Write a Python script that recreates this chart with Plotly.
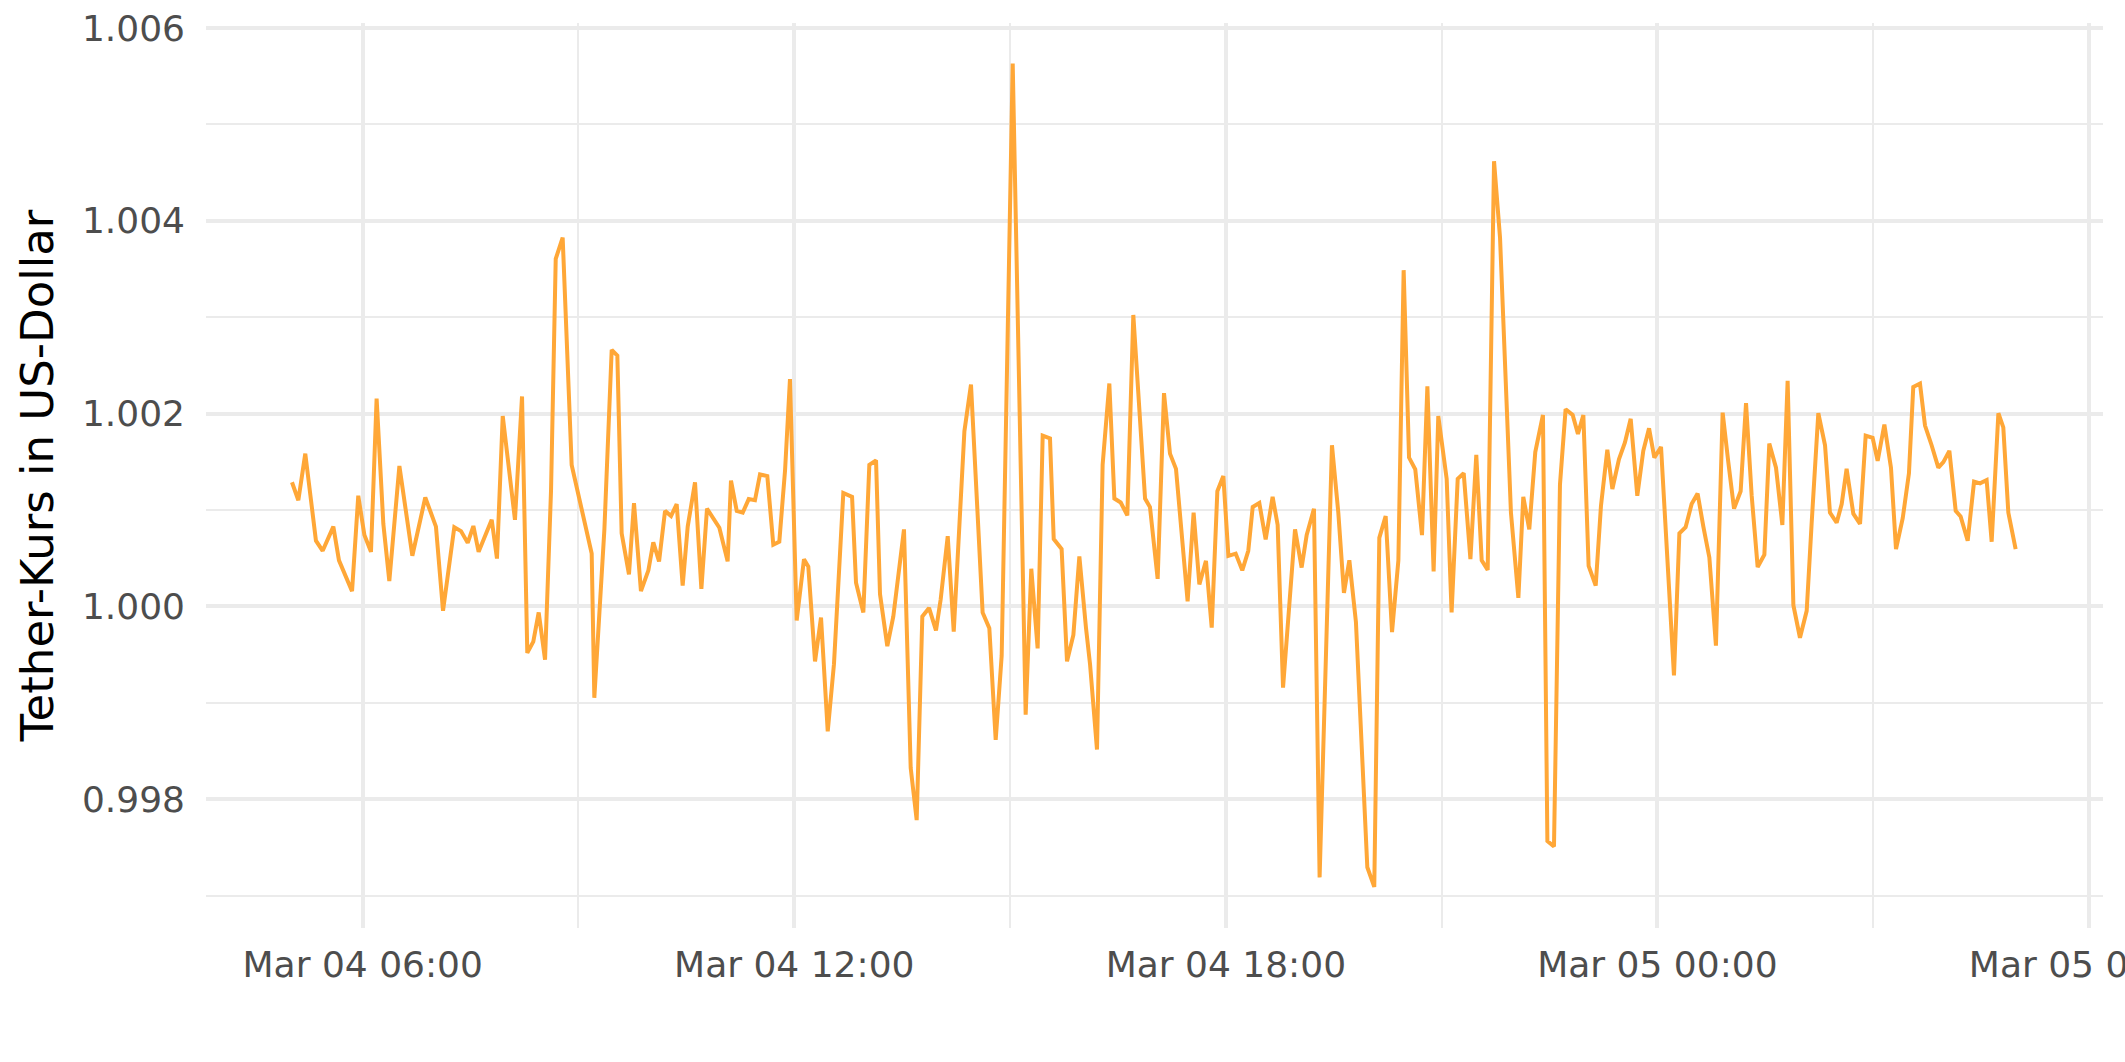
import pandas as pd
import plotly.graph_objects as go

# minutes after 2020-03-04 00:00
minutes = [
    301.0, 306.3, 312.1, 321.0, 326.6, 335.5, 340.2, 351.1, 356.3, 361.4, 366.9, 371.6, 377.2, 382.2,
    390.6, 401.4, 412.2, 421.1, 427.0, 436.4, 442.0, 447.6, 452.3, 456.7, 467.6, 472.0, 476.8, 487.0,
    492.9, 497.3, 502.3, 506.8, 512.1, 517.1, 521.0, 526.8,
    534.3, 551.0, 553.2, 561.6, 567.7, 572.4, 576.0, 582.1, 586.3, 592.1, 598.3, 602.4, 607.2, 612.2,
    617.2, 621.9, 626.9, 631.1, 637.2, 642.5, 647.2, 652.0, 657.5, 664.4, 667.2, 672.0, 677.0, 682.0,
    687.2, 691.4, 697.5, 702.5, 707.5, 712.3, 716.4, 722.0, 728.1, 731.7, 737.3, 742.3, 747.9, 753.1,
    760.9, 768.2, 771.5,
    777.6, 782.6, 788.2, 791.5, 797.6, 802.6, 811.5, 817.1, 822.1, 826.8, 832.4, 838.2, 842.1, 848.0,
    853.0, 861.9, 867.4, 877.1, 882.7, 888.0, 893.0, 902.2, 913.0, 917.7, 923.0, 927.2, 933.3, 936.4,
    943.0, 947.5, 952.8, 957.8, 963.3, 966.7, 972.5, 977.2, 982.8, 987.0, 992.3, 997.8, 1002.8, 1012.6,
    1016.7,
    1023.1, 1028.4, 1033.4, 1038.4, 1048.1, 1053.1, 1057.9, 1063.4, 1068.2, 1072.9, 1077.9, 1082.1,
    1088.2, 1093.7, 1098.7, 1102.4, 1107.9, 1113.2, 1119.0, 1123.2, 1127.7, 1137.7, 1143.2, 1147.4,
    1153.5, 1158.2, 1168.5, 1173.8, 1178.5, 1183.0, 1188.5, 1198.0, 1203.8, 1208.0, 1213.3, 1218.6,
    1223.9, 1228.3, 1232.8, 1238.0, 1243.6, 1248.1, 1253.3, 1257.2,
    1264.2, 1268.3, 1273.4, 1278.4, 1284.0, 1288.9, 1293.4, 1298.4, 1303.7, 1308.7, 1313.7, 1317.8,
    1324.0, 1328.1, 1333.1, 1338.1, 1344.5, 1348.2, 1353.7, 1358.7, 1363.4, 1369.3, 1373.7, 1378.2,
    1382.6, 1388.5, 1392.9, 1398.2, 1402.4, 1407.9, 1412.9, 1417.7, 1423.2, 1428.2, 1433.0, 1437.4,
    1443.0, 1453.8, 1458.3, 1463.5, 1468.5, 1473.5, 1478.3, 1483.3, 1488.8, 1494.4,
    1499.1, 1503.9, 1509.4, 1513.9, 1518.6, 1523.6, 1529.2, 1533.3, 1538.9, 1544.2, 1548.6, 1553.4,
    1558.9, 1564.5, 1568.6, 1574.2, 1579.8, 1583.9, 1589.5, 1593.7, 1597.8, 1603.4, 1609.0, 1613.7,
    1619.5, 1623.7, 1629.3, 1634.8, 1639.0, 1644.6, 1649.8, 1653.4, 1659.0, 1663.2, 1668.7, 1674.3,
    1678.5, 1683.5, 1688.8, 1692.9, 1698.8, 1704.1, 1709.1, 1714.6, 1718.8, 1724.4, 1728.5, 1732.7,
    1738.8,
]

price = [
    1.001287, 1.001100, 1.001584, 1.000681, 1.000576, 1.000827, 1.000477, 1.000157, 1.001147, 1.000739,
    1.000565, 1.002154, 1.000856, 1.000262, 1.001456, 1.000524, 1.001129, 1.000827, 0.999953, 1.000821,
    1.000780, 1.000658, 1.000833, 1.000565, 1.000897, 1.000495, 1.001974, 1.000897, 1.002177, 0.999517,
    0.999633, 0.999936, 0.999447, 1.001205, 1.003604, 1.003825,
    1.001467, 1.000547, 0.999051, 1.000798, 1.002661, 1.002602, 1.000757, 1.000332, 1.001071, 1.000157,
    1.000373, 1.000664, 1.000466, 1.000990, 1.000937, 1.001060, 1.000215, 1.000827, 1.001287, 1.000180,
    1.001013, 1.000914, 1.000815, 1.000466, 1.001304, 1.000990, 1.000972, 1.001112, 1.001100, 1.001368,
    1.001351, 1.000640, 1.000670, 1.001409, 1.002358, 0.999854, 1.000489, 1.000413, 0.999429, 0.999884,
    0.998702, 0.999400, 1.001176, 1.001135, 1.000245,
    0.999936, 1.001467, 1.001514, 1.000128, 0.999587, 0.999895, 1.000798, 0.998323, 0.997782, 0.999895,
    0.999983, 0.999750, 1.000070, 1.000728, 0.999738, 1.001816, 1.002300, 0.999936, 0.999773, 0.998614,
    0.999488, 1.005630, 0.998876, 1.000390, 0.999563, 1.001770, 1.001741, 1.000699, 1.000594, 0.999429,
    0.999703, 1.000518, 0.999779, 0.999400, 0.998515, 1.001467, 1.002311, 1.001118, 1.001077, 1.000943,
    1.003022, 1.001118, 1.001030,
    1.000285, 1.002212, 1.001584, 1.001426, 1.000052, 1.000972, 1.000227, 1.000472, 0.999779, 1.001194,
    1.001351, 1.000524, 1.000547, 1.000373, 1.000576, 1.001030, 1.001071, 1.000693, 1.001135, 1.000844,
    0.999156, 1.000798, 1.000402, 1.000739, 1.001013, 0.997188, 1.001671, 1.000972, 1.000140, 1.000477,
    0.999837, 0.997293, 0.997089, 1.000710, 1.000937, 0.999732, 1.000477, 1.003487, 1.001543, 1.001421,
    1.000739, 1.002282, 1.000361, 1.001974,
    1.001322, 0.999936, 1.001322, 1.001380, 1.000489, 1.001572, 1.000477, 1.000378, 1.004617, 1.003825,
    1.002253, 1.000972, 1.000087, 1.001135, 1.000798, 1.001601, 1.001985, 0.997566, 0.997508, 1.001263,
    1.002044, 1.001985, 1.001787, 1.001985, 1.000419, 1.000215, 1.001042, 1.001624, 1.001217, 1.001525,
    1.001700, 1.001945, 1.001147, 1.001613, 1.001846, 1.001543, 1.001653, 0.999284, 1.000757, 1.000821,
    1.001060, 1.001170, 1.000827, 1.000507, 0.999592, 1.002009,
    1.001496, 1.001013, 1.001194, 1.002108, 1.001150, 1.000408, 1.000536, 1.001688, 1.001438, 1.000844,
    1.002340, 1.000012, 0.999674, 0.999953, 1.000856, 1.002003, 1.001671, 1.000972, 1.000867, 1.001060,
    1.001426, 1.000961, 1.000856, 1.001770, 1.001747, 1.001508, 1.001886, 1.001438, 1.000594, 1.000914,
    1.001380, 1.002276, 1.002311, 1.001875, 1.001671, 1.001438, 1.001496, 1.001613, 1.000990, 1.000932,
    1.000681, 1.001293, 1.001275, 1.001310, 1.000670, 1.002003, 1.001857, 1.000972, 1.000594,
]

y_title = "Tether-Kurs in US-Dollar"
x_range = ["2020-03-04 03:49:17", "2020-03-05 06:11:40"]
y_range = [0.996663, 1.006051]

base = pd.Timestamp("2020-03-04 00:00:00")
times = [base + pd.Timedelta(minutes=m) for m in minutes]

fig = go.Figure()
fig.add_trace(go.Scatter(
    x=times, y=price, mode="lines",
    line=dict(color="#FFA737", width=4),
    hoverinfo="x+y", showlegend=False,
))

grid = "#EBEBEB"
font_family = "DejaVu Sans"

fig.update_layout(
    width=2125, height=1062,
    margin=dict(l=206, r=22, t=23, b=134),
    paper_bgcolor="white", plot_bgcolor="white",
    font=dict(family=font_family, color="#4D4D4D", size=36),
    xaxis=dict(
        type="date", range=x_range, automargin=False,
        tick0="2020-03-04 00:00:00", dtick=6 * 3600 * 1000,
        tickformat="%b %d %H:%M",
        showgrid=True, gridcolor=grid, gridwidth=3.7,
        minor=dict(dtick=3 * 3600 * 1000, showgrid=True, gridcolor=grid, gridwidth=1.8),
        zeroline=False, showline=False, ticks="",
        tickfont=dict(family=font_family, size=36, color="#4D4D4D"),
        ticklabelstandoff=12, ticklabeloverflow="allow",
    ),
    yaxis=dict(
        range=y_range, dtick=0.002, tick0=1.0, tickformat=".3f", automargin=False,
        showgrid=True, gridcolor=grid, gridwidth=3.7,
        minor=dict(dtick=0.001, showgrid=True, gridcolor=grid, gridwidth=1.8),
        zeroline=False, showline=False, ticks="",
        tickfont=dict(family=font_family, size=36, color="#4D4D4D"),
        ticklabelstandoff=20, ticklabeloverflow="allow",
        title=dict(text=y_title, font=dict(family=font_family, size=45, color="black"), standoff=14),
    ),
)

# remove the browser's default 8px body margin so the figure fills the window exactly
fig.write_html(
    "out.html",
    config={"displayModeBar": False},
    post_script="document.body.style.margin='0px';",
)
